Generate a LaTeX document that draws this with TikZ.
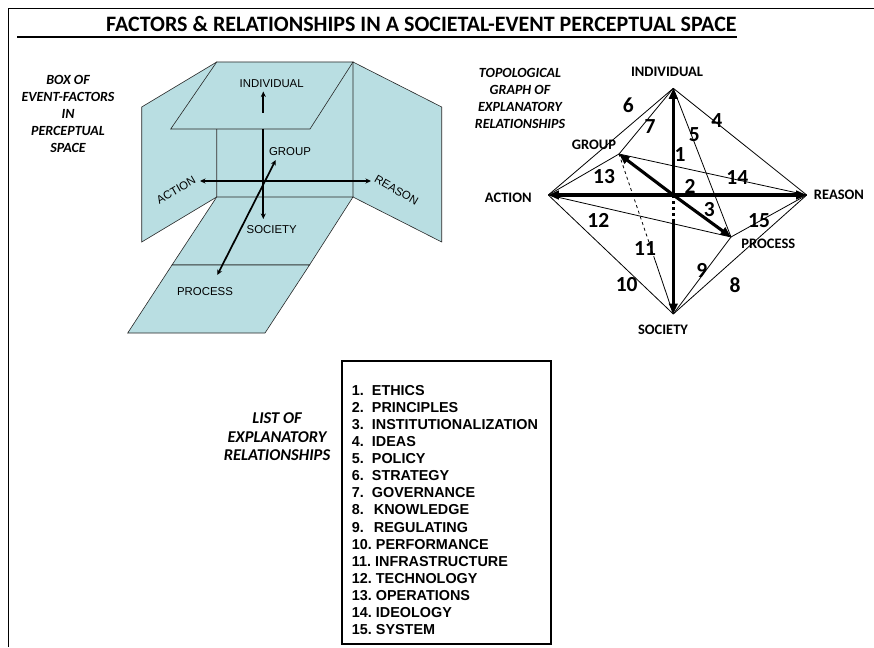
\documentclass[tikz,border=0pt]{standalone}
\usepackage{fontspec}
\setmainfont{Liberation Sans}
\newfontfamily\calfont{Carlito}
\usetikzlibrary{arrows.meta,calc}
\definecolor{panel}{RGB}{185,222,226}
\begin{document}
\begin{tikzpicture}[x=1pt,y=-1pt,
  wall/.style={fill=panel,draw=black!85,line width=0.6pt},
  axis3d/.style={line width=1.7pt,-{Stealth[length=5.5pt,width=5pt]}},
  axis3dboth/.style={line width=1.7pt,{Stealth[length=5.5pt,width=5pt]}-{Stealth[length=5.5pt,width=5pt]}},
  lbl3d/.style={font=\fontsize{11.4}{13}\selectfont,inner sep=0pt},
  italbl/.style={font=\calfont\bfseries\itshape\fontsize{14}{17.2}\selectfont,align=center,inner sep=0pt},
  vlbl/.style={font=\calfont\bfseries\fontsize{14.5}{16}\selectfont,inner sep=0pt},
  num/.style={font=\calfont\bfseries\fontsize{21.5}{22}\selectfont,inner sep=0pt},
  thickarrow/.style={line width=3.1pt,-{Triangle[length=10.5pt,width=8.5pt]}},
  thinline/.style={line width=0.8pt},
  item/.style={font=\bfseries\fontsize{14.4}{17}\selectfont,anchor=base west,inner sep=0pt}
]
\useasboundingbox (0,0) rectangle (874,647);
% frame
\coordinate (fbl) at (8,647);
\coordinate (ftl) at (8,8);
\coordinate (ftr) at (874,8);
\draw[line width=0.8pt] (fbl) -- (ftl) -- (ftr);
% title
\node[font=\calfont\bfseries\fontsize{22}{24}\selectfont,anchor=base west,inner sep=0pt] (title) at (106,32) {FACTORS \& RELATIONSHIPS IN A SOCIETAL-EVENT PERCEPTUAL SPACE};
\coordinate (ul) at (17,37);
\draw[line width=1.6pt] (ul) -- (title.east |- ul);
% ---------- 3D box ----------
\fill[panel] (216.7,62) rectangle (353,197);
\draw[wall] (216.7,62) -- (141.7,107) -- (141.7,242) -- (216.7,197) -- cycle;
\draw[wall] (353,62) -- (441.7,107) -- (441.7,242) -- (353,197) -- cycle;
\draw[wall] (216.7,197) -- (353,197) -- (309.5,265) -- (172,265) -- cycle;
\draw[wall] (172,265) -- (309.5,265) -- (265,333) -- (127.7,333) -- cycle;
\draw[wall] (216.7,62) -- (353,62) -- (310,129) -- (170.7,129) -- cycle;
% axes
\coordinate (vtop) at (263.3,129);
\coordinate (vsoc) at (263.3,219);
\coordinate (vind0) at (263.3,113);
\coordinate (vind) at (263.3,91.5);
\coordinate (hact) at (200,181);
\coordinate (hrea) at (371,181);
\coordinate (dproc) at (217.3,275);
\coordinate (dgrp) at (275.7,160);
\draw[axis3d] (vtop) -- (vsoc);
\draw[axis3d] (vind0) -- (vind);
\draw[axis3dboth] (hact) -- (hrea);
\draw[axis3dboth] (dproc) -- (dgrp);
\node[lbl3d] (bind) at (271.7,83.3) {INDIVIDUAL};
\node[lbl3d] (bgrp) at (290,151.7) {GROUP};
\node[lbl3d] (bsoc) at (271.7,230) {SOCIETY};
\node[lbl3d] (bproc) at (205,291.7) {PROCESS};
\node[lbl3d,rotate=30] (bact) at (176,190) {ACTION};
\node[lbl3d,rotate=-30] (brea) at (396.5,190) {REASON};
% italic labels
\node[italbl] (boxlbl) at (68,114) {BOX OF\\EVENT-FACTORS\\IN\\PERCEPTUAL\\SPACE};
\node[italbl] (toplbl) at (520,98.5) {TOPOLOGICAL\\GRAPH OF\\EXPLANATORY\\RELATIONSHIPS};
\node[italbl,font=\calfont\bfseries\itshape\fontsize{16.5}{18.5}\selectfont] (listlbl) at (277,437) {LIST OF\\EXPLANATORY\\RELATIONSHIPS};
% ---------- graph ----------
\coordinate (O) at (673.3,195);
\coordinate (I) at (673.3,88.3);
\coordinate (A) at (548.3,195);
\coordinate (R) at (806.7,195);
\coordinate (S) at (673.3,314);
\coordinate (G) at (619,154);
\coordinate (P) at (731,237);
\coordinate (Sd) at (673.3,222);
\coordinate (GSd) at ($(G)!0.64!(S)$);
\draw[thinline] (I) -- (A);
\draw[thinline] (I) -- (G);
\draw[thinline] (I) -- (R);
\draw[thinline] (I) -- (P);
\draw[thinline] (A) -- (G);
\draw[thinline] (G) -- (R);
\draw[thinline] (A) -- (P);
\draw[thinline] (P) -- (R);
\draw[thinline] (A) -- (S);
\draw[thinline] (P) -- (S);
\draw[thinline] (S) -- (R);
\draw[thinline,dashed] (G) -- (GSd);
\draw[thinline] (GSd) -- (S);
\draw[thickarrow] (O) -- (I);
\draw[thickarrow] (O) -- (A);
\draw[thickarrow] (O) -- (R);
\draw[thickarrow] (O) -- (G);
\draw[thickarrow] (O) -- (P);
\draw[line width=3.1pt,dash pattern=on 3pt off 3pt] (O) -- (Sd);
\draw[thickarrow] (Sd) -- (S);
\node[vlbl] (gind) at (667,72.3) {INDIVIDUAL};
\node[vlbl] (ggrp) at (594,144.3) {GROUP};
\node[vlbl] (gact) at (508.3,197.7) {ACTION};
\node[vlbl] (grea) at (839,194.3) {REASON};
\node[vlbl] (gproc) at (768.3,244) {PROCESS};
\node[vlbl] (gsoc) at (663,330) {SOCIETY};
\node[num] (n1) at (680,155) {1};
\node[num] (n2) at (690,186.7) {2};
\node[num] (n3) at (709.3,209.3) {3};
\node[num] (n4) at (716.7,120.7) {4};
\node[num] (n5) at (694.3,135) {5};
\node[num] (n6) at (628.3,105) {6};
\node[num] (n7) at (650,126.7) {7};
\node[num] (n8) at (735,285) {8};
\node[num] (n9) at (701.7,270) {9};
\node[num] (n10) at (626.7,285) {10};
\node[num] (n11) at (645,249) {11};
\node[num] (n12) at (598.3,220.7) {12};
\node[num] (n13) at (604,176.7) {13};
\node[num] (n14) at (737.3,177.7) {14};
\node[num] (n15) at (759,220.7) {15};
% ---------- list ----------
\node[draw,line width=2pt,minimum width=209pt,minimum height=283.3pt,anchor=north west,inner sep=0pt,outer sep=0pt] (listbox) at (341.7,360.7) {};
\node[item] (i1) at (351.7,395) {1.\ \ ETHICS};
\node[item] (i2) at (351.7,412.14) {2.\ \ PRINCIPLES};
\node[item] (i3) at (351.7,429.28) {3.\ \ INSTITUTIONALIZATION};
\node[item] (i4) at (351.7,446.42) {4.\ \ IDEAS};
\node[item] (i5) at (351.7,463.56) {5.\ \ POLICY};
\node[item] (i6) at (351.7,480.7) {6.\ \ STRATEGY};
\node[item] (i7) at (351.7,497.84) {7.\ \ GOVERNANCE};
\node[item] (i8) at (351.7,514.98) {8.\ \ \kern2pt KNOWLEDGE};
\node[item] (i9) at (351.7,532.12) {9.\ \ \kern2pt REGULATING};
\node[item] (i10) at (351.7,549.26) {10.\ PERFORMANCE};
\node[item] (i11) at (351.7,566.4) {11.\ INFRASTRUCTURE};
\node[item] (i12) at (351.7,583.54) {12.\ TECHNOLOGY};
\node[item] (i13) at (351.7,600.68) {13.\ OPERATIONS};
\node[item] (i14) at (351.7,617.82) {14.\ IDEOLOGY};
\node[item] (i15) at (351.7,634.96) {15.\ SYSTEM};
\end{tikzpicture}
\end{document}
